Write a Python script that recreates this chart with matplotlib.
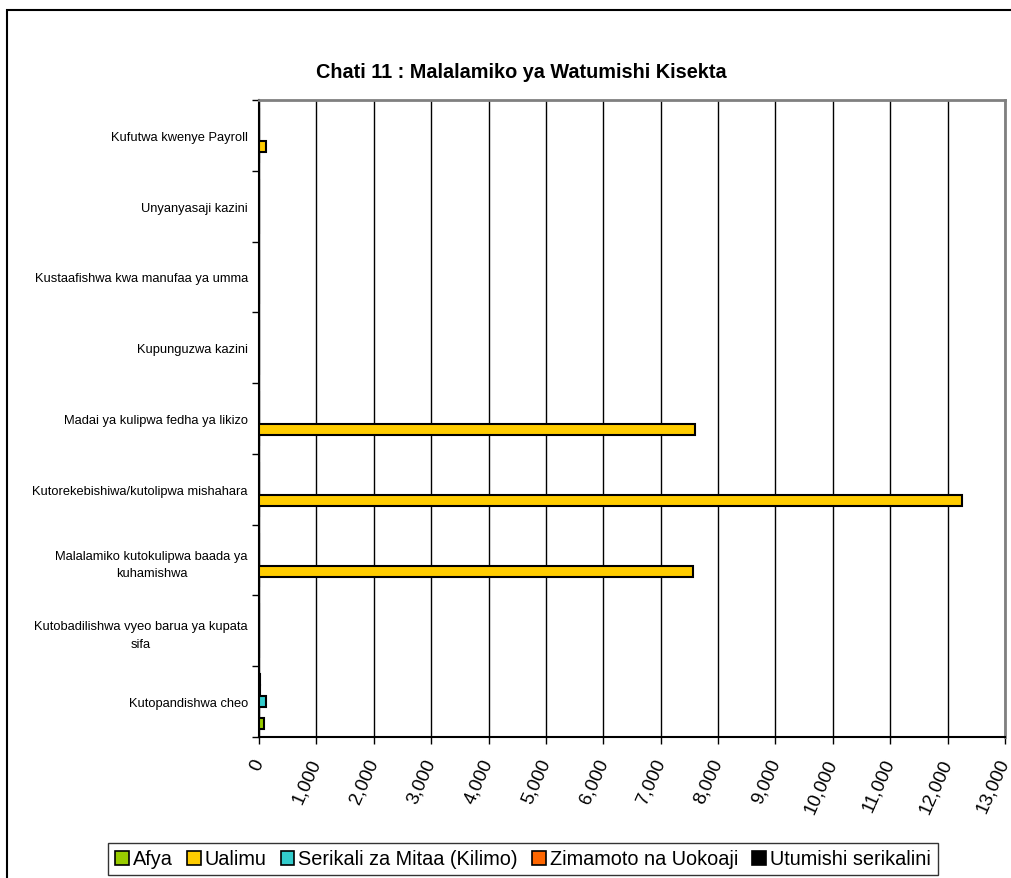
import matplotlib
matplotlib.use("Agg")
import matplotlib.pyplot as plt
import numpy as np
from matplotlib.patches import Rectangle, Patch
from matplotlib.ticker import FuncFormatter

plt.rcParams['font.family'] = ['Liberation Sans', 'DejaVu Sans']

# categories listed top to bottom as displayed
categories = [
    "Kufutwa kwenye Payroll",
    "Unyanyasaji kazini",
    "Kustaafishwa kwa manufaa ya umma",
    "Kupunguzwa kazini",
    "Madai ya kulipwa fedha ya likizo",
    "Kutorekebishiwa/kutolipwa mishahara",
    "Malalamiko kutokulipwa baada ya\nkuhamishwa",
    "Kutobadilishwa vyeo barua ya kupata\nsifa",
    "Kutopandishwa cheo",
]
series_names = ["Afya", "Ualimu", "Serikali za Mitaa (Kilimo)",
                "Zimamoto na Uokoaji", "Utumishi serikalini"]
afya      = [0, 0, 0, 0, 0, 0, 0, 0, 95]
ualimu    = [120, 0, 0, 0, 7600, 12255, 7570, 0, 0]
serikali  = [0, 0, 0, 0, 0, 0, 0, 0, 115]
zimamoto  = [0, 0, 0, 0, 0, 0, 0, 0, 15]
utumishi  = [0, 0, 0, 0, 0, 0, 0, 0, 20]
colors = ["#99CC00", "#FFCC00", "#33CCCC", "#FF6600", "#000000"]
xticks = list(range(0, 13001, 1000))

series = [afya, ualimu, serikali, zimamoto, utumishi]

W, H = 1011, 879
fig = plt.figure(figsize=(W / 100, H / 100), dpi=100)
ax = fig.add_axes([259 / W, 1 - 738 / H, (1005 - 259) / W, (738 - 101) / H])

n = len(categories)
base = np.arange(n)[::-1] + 0.5  # top category at top
bh = 0.155
for k, (vals, col) in enumerate(zip(series, colors)):
    ax.barh(base + (k - 2) * bh, vals, height=bh, color=col,
            edgecolor="black", linewidth=1.5, zorder=3)

ax.set_xlim(0, 13000)
ax.set_ylim(0, n)
ax.set_xticks(xticks)
ax.xaxis.set_major_formatter(FuncFormatter(lambda v, p: f"{int(v):,}"))
ax.grid(axis="x", color="black", linewidth=1, zorder=0)
ax.set_axisbelow(True)

ax.set_yticks(base)
ax.set_yticklabels(categories, fontsize=9.3, ha="right", multialignment="center",
                   linespacing=1.6)
ax.tick_params(axis="y", which="major", length=0, pad=8)
ax.set_yticks(np.arange(0, n + 1), minor=True)
ax.tick_params(axis="y", which="minor", length=5, width=1, direction="out")

ax.tick_params(axis="x", length=5, width=1, direction="out", pad=11, labelsize=13.5)
for lab in ax.get_xticklabels():
    lab.set_rotation(66)
    lab.set_ha("right")
    lab.set_va("center")
    lab.set_rotation_mode("anchor")

for s in ["top", "right"]:
    ax.spines[s].set_color("#808080")
    ax.spines[s].set_linewidth(2)
for s in ["left", "bottom"]:
    ax.spines[s].set_color("black")
    ax.spines[s].set_linewidth(1.5)

fig.text(521 / W, 1 - 73 / H, "Chati 11 : Malalamiko ya Watumishi Kisekta",
         ha="center", va="center", fontsize=14.3, fontweight="bold")

handles = [Patch(facecolor=c, edgecolor="black", linewidth=1.2) for c in colors]
leg = fig.legend(handles, series_names, loc="center", ncol=5,
                 bbox_to_anchor=(523 / W, 1 - 860 / H), fontsize=14.3,
                 frameon=True, fancybox=False, handlelength=0.7, handleheight=0.7,
                 handletextpad=0.2, columnspacing=0.7, borderpad=0.35)
leg.get_frame().set_edgecolor("black")
leg.get_frame().set_linewidth(1)

fig.add_artist(Rectangle((7 / W, -0.1), 2, 1 - 11 / H + 0.1, transform=fig.transFigure,
                         fill=False, edgecolor="black", linewidth=1.5, clip_on=False))

fig.savefig("out.png", dpi=100)
